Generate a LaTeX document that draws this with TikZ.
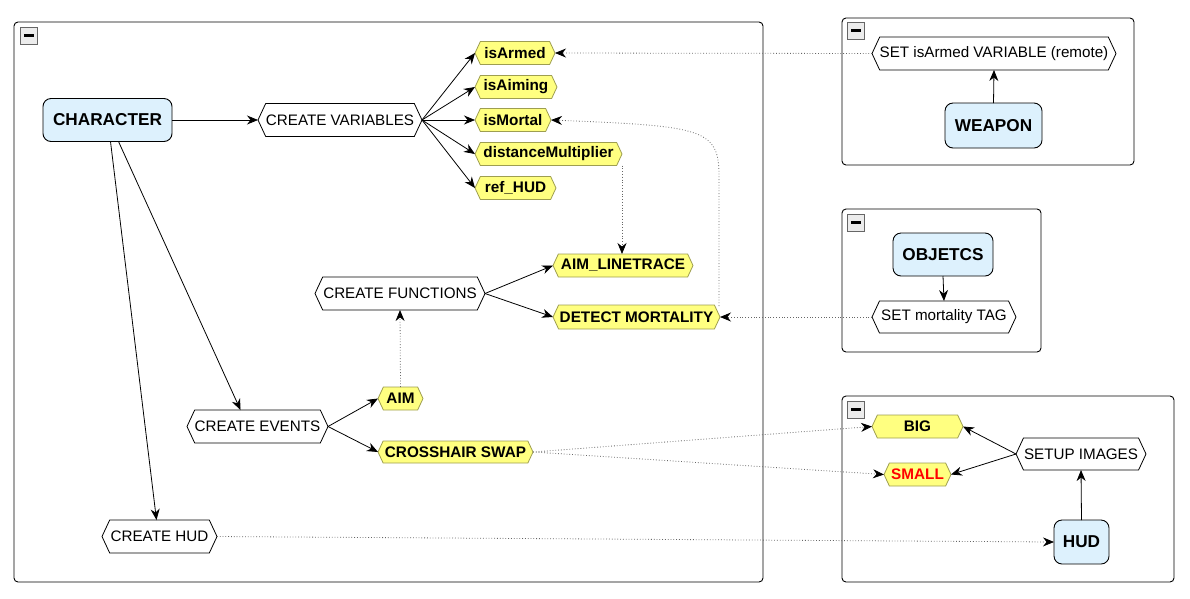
\documentclass[tikz,border=0pt]{standalone}
\usepackage{fontspec}
\setmainfont{Liberation Sans}
\usetikzlibrary{shapes.symbols,arrows.meta}
\definecolor{nodeblue}{HTML}{DDF1FD}
\definecolor{varyellow}{HTML}{FFFF80}
\definecolor{varborder}{HTML}{9E9E50}
\definecolor{dotgray}{HTML}{666666}
\tikzset{
  every node/.style={inner sep=0pt,outer sep=0pt},
  hexbase/.style={signal, signal to=east and west, signal pointer angle=130, draw},
  hexwhite/.style={hexbase, fill=white, draw=black, line width=0.8pt, font=\fontsize{15.2}{17}\selectfont},
  hexyellow/.style={hexbase, fill=varyellow, draw=varborder, line width=0.8pt, font=\fontsize{15.3}{17}\selectfont\bfseries},
  entity/.style={rectangle, rounded corners=8pt, fill=nodeblue, draw=black, line width=0.9pt, font=\fontsize{17.2}{19}\selectfont\bfseries},
  group/.style={draw=black, rounded corners=4pt, line width=0.9pt},
  link/.style={-{Stealth[length=11pt,width=9pt]}, line width=0.8pt, black},
  dlink/.style={-{Stealth[length=11pt,width=9pt,color=black]}, dotgray, line width=0.8pt, dotted},
}
\newcommand{\minusbox}[2]{%
  \draw[fill=gray!15, draw=gray!80!black, line width=0.8pt] (#1,#2) rectangle ++(17,17);
  \fill[black] (#1+3.5,#2+7) rectangle ++(10,3);}
\begin{document}
\begin{tikzpicture}[x=1pt,y=-1pt]
\useasboundingbox (0,0) rectangle (1190,598);
% groups
\draw[group] (14,22) rectangle (763,582);
\draw[group] (842,18) rectangle (1134,165);
\draw[group] (842,209) rectangle (1041,352);
\draw[group] (842,396) rectangle (1174,582);
\minusbox{20}{27}
\minusbox{847}{22}
\minusbox{847}{214}
\minusbox{847}{401}
% main nodes
\node[entity, minimum width=129pt, minimum height=43pt] (char) at (107.5,120) {CHARACTER};
\node[hexwhite, minimum width=164pt, minimum height=33pt] (cv) at (340,120) {CREATE VARIABLES};
\node[hexyellow, minimum width=80pt, minimum height=23pt] (isarmed) at (515,53) {isArmed};
\node[hexyellow, minimum width=82pt, minimum height=23pt] (isaiming) at (516,87) {isAiming};
\node[hexyellow, minimum width=76pt, minimum height=23pt] (ismortal) at (513,120) {isMortal};
\node[hexyellow, minimum width=147pt, minimum height=23pt] (dist) at (548.5,154) {distanceMultiplier};
\node[hexyellow, minimum width=81pt, minimum height=23pt] (refhud) at (515.5,188) {ref\_HUD};
\node[hexyellow, minimum width=140pt, minimum height=23pt] (alt) at (623,265.5) {AIM\_LINETRACE};
\node[hexyellow, minimum width=167pt, minimum height=24pt] (dm) at (636.5,317) {DETECT MORTALITY};
\node[hexwhite, minimum width=170pt, minimum height=33pt] (cf) at (400,293.5) {CREATE FUNCTIONS};
\node[hexyellow, minimum width=45pt, minimum height=23pt] (aim) at (400.5,398.5) {AIM};
\node[hexwhite, minimum width=141pt, minimum height=33pt] (ce) at (257.5,426.5) {CREATE EVENTS};
\node[hexyellow, minimum width=155pt, minimum height=22pt] (cs) at (455.5,452) {CROSSHAIR SWAP};
\node[hexwhite, minimum width=115pt, minimum height=33pt] (ch) at (159.5,536.5) {CREATE HUD};
% weapon group
\node[hexwhite, minimum width=244pt, minimum height=33pt] (setarmed) at (994,53.5) {SET isArmed VARIABLE (remote)};
\node[entity, minimum width=97pt, minimum height=45pt] (weapon) at (993.5,125.5) {WEAPON};
% objects group
\node[entity, minimum width=100pt, minimum height=43pt] (obj) at (943,254.5) {OBJETCS};
\node[hexwhite, minimum width=144pt, minimum height=32pt] (setmort) at (944,317) {SET mortality TAG};
% hud group
\node[hexyellow, minimum width=91pt, minimum height=23pt] (big) at (917.5,426.5) {BIG};
\node[hexyellow, minimum width=67pt, minimum height=23pt, text=red] (small) at (917.5,474.5) {SMALL};
\node[hexwhite, minimum width=130pt, minimum height=32pt] (setup) at (1081,454) {SETUP IMAGES};
\node[entity, minimum width=55pt, minimum height=44pt] (hud) at (1081.5,542) {HUD};
% solid links
\draw[link] (char.east) -- (cv.west);
\draw[link] ([xshift=11pt]char.south) -- ([xshift=-17pt]ce.north);
\draw[link] ([xshift=3pt]char.south) -- ([xshift=-3pt]ch.north);
\foreach \v in {isarmed,isaiming,ismortal,dist,refhud}
  \draw[link] (cv.east) -- (\v.west);
\draw[link] (cf.east) -- (alt.west);
\draw[link] (cf.east) -- (dm.west);
\draw[link] (ce.east) -- (aim.west);
\draw[link] (ce.east) -- (cs.west);
\draw[link] (weapon.north) -- (setarmed.south);
\draw[link] (obj.south) -- (setmort.north);
\draw[link] (hud.north) -- (setup.south);
\draw[link] (setup.west) -- (big.east);
\draw[link] (setup.west) -- (small.east);
% dotted links
\draw[dlink] (setarmed.west) -- (isarmed.east);
\coordinate (dmtop) at (719,306);
\draw[dlink] (dmtop) -- (719,175) .. controls (719,128) and (700,126) .. (ismortal.east);
\draw[dlink] (dist.east |- dist.south) -- (dist.east |- alt.north);
\draw[dlink] (setmort.west) -- (dm.east);
\draw[dlink] (aim.north) -- (cf.south);
\draw[dlink] (cs.east) -- (big.west);
\draw[dlink] (cs.east) -- (small.west);
\draw[dlink] (ch.east) -- (hud.west);
\end{tikzpicture}
\end{document}
